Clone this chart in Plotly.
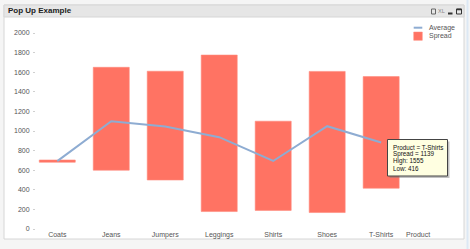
import plotly.graph_objects as go

products = ["Coats", "Jeans", "Jumpers", "Leggings", "Shirts", "Shoes", "T-Shirts"]
low = [681, 600, 500, 178, 190, 168, 416]
high = [704, 1650, 1610, 1775, 1100, 1608, 1555]
average = [693, 1100, 1045, 937, 694, 1049, 882]
y_ticks = [0, 200, 400, 600, 800, 1000, 1200, 1400, 1600, 1800, 2000]

spread = [h - l for h, l in zip(high, low)]

W, H = 470, 249
PL, PR, PT, PB = 36, 440, 33, 229  # plot area in pixels


def px(x):
    return (x - PL) / (PR - PL)


def py(y):
    return (PB - y) / (PB - PT)


FONT = "Liberation Sans, Arial, sans-serif"
GRAY = "#555555"
BAR = "#ff7363"
LINE = "#8eacd2"

fig = go.Figure()
fig.add_trace(go.Bar(
    x=products, y=spread, base=low, width=0.667,
    marker=dict(color=BAR, line=dict(color="#ff8a7c", width=0.6)),
    name="Spread", hoverinfo="skip"))
fig.add_trace(go.Scatter(
    x=products, y=average, mode="lines", name="Average",
    line=dict(color=LINE, width=2), hoverinfo="skip"))

shapes = []
annotations = []

# Panel background, border and caption bar
shapes.append(dict(type="rect", xref="paper", yref="paper", layer="below",
                   x0=px(4), x1=px(464), y0=py(239), y1=py(5),
                   fillcolor="white", line=dict(color="#d6d6d6", width=1)))
shapes.append(dict(type="rect", xref="paper", yref="paper", layer="below",
                   x0=px(4), x1=px(464), y0=py(17), y1=py(5),
                   fillcolor="#e6e6e6", line=dict(color="#d6d6d6", width=1)))
shapes.append(dict(type="line", xref="paper", yref="paper", layer="below",
                   x0=px(467.5), x1=px(467.5), y0=py(249), y1=py(0),
                   line=dict(color="#dce8f4", width=2)))
annotations.append(dict(x=px(6), y=py(11), xref="paper", yref="paper",
                        text="<b>Pop Up Example</b>", showarrow=False,
                        xanchor="left", yanchor="middle",
                        font=dict(family=FONT, size=8, color="#222222")))
# caption icons
shapes.append(dict(type="rect", xref="paper", yref="paper", layer="above",
                   x0=px(431.5), x1=px(435.5), y0=py(14), y1=py(9),
                   fillcolor="rgba(0,0,0,0)", line=dict(color="#666", width=1)))
annotations.append(dict(x=px(441), y=py(11), xref="paper", yref="paper",
                        text="XL", showarrow=False, xanchor="center", yanchor="middle",
                        font=dict(family=FONT, size=5.5, color="#888")))
shapes.append(dict(type="line", xref="paper", yref="paper", layer="above",
                   x0=px(448), x1=px(452.5), y0=py(13.5), y1=py(13.5),
                   line=dict(color="#333", width=2)))
shapes.append(dict(type="rect", xref="paper", yref="paper", layer="above",
                   x0=px(456.5), x1=px(461.5), y0=py(14), y1=py(9),
                   fillcolor="rgba(0,0,0,0)", line=dict(color="#333", width=1)))
shapes.append(dict(type="line", xref="paper", yref="paper", layer="above",
                   x0=px(456.5), x1=px(461.5), y0=py(9.5), y1=py(9.5),
                   line=dict(color="#333", width=1.5)))

# Legend
shapes.append(dict(type="line", xref="paper", yref="paper", layer="above",
                   x0=px(413.7), x1=px(422.3), y0=py(27.7), y1=py(27.7),
                   line=dict(color=LINE, width=2)))
shapes.append(dict(type="rect", xref="paper", yref="paper", layer="above",
                   x0=px(413.7), x1=px(422.3), y0=py(40.3), y1=py(32),
                   fillcolor=BAR, line=dict(color="#ff8a7c", width=0.5)))
annotations.append(dict(x=px(427), y=py(27.8), xref="paper", yref="paper",
                        text="Average", showarrow=False, xanchor="left", yanchor="middle",
                        font=dict(family=FONT, size=7, color=GRAY)))
annotations.append(dict(x=px(427), y=py(36.2), xref="paper", yref="paper",
                        text="Spread", showarrow=False, xanchor="left", yanchor="middle",
                        font=dict(family=FONT, size=7, color=GRAY)))

# Axis title at the end of the x axis
annotations.append(dict(x=px(418), y=py(234), xref="paper", yref="paper",
                        text="Product", showarrow=False, xanchor="center", yanchor="middle",
                        font=dict(family=FONT, size=7, color=GRAY)))

# Pop-up for T-Shirts
i = products.index("T-Shirts")
shapes.append(dict(type="rect", xref="paper", yref="paper", layer="above",
                   x0=px(389.5), x1=px(449.5), y0=py(178), y1=py(141.5),
                   fillcolor="rgba(120,120,120,0.45)", line=dict(width=0)))
shapes.append(dict(type="rect", xref="paper", yref="paper", layer="above",
                   x0=px(387.5), x1=px(447.5), y0=py(176), y1=py(139.5),
                   fillcolor="#ffffe1", line=dict(color="#444444", width=1)))
lines = [f"Product = {products[i]}", f"Spread = {spread[i]}",
         f"High: {high[i]}", f"Low: {low[i]}"]
for k, t in enumerate(lines):
    annotations.append(dict(x=px(390.5), y=py(147.3 + 7 * k), xref="paper", yref="paper",
                            text=t, showarrow=False, xanchor="left", yanchor="middle",
                            font=dict(family=FONT, size=6.3, color="#111111")))

fig.update_layout(
    template="none",
    width=W, height=H,
    margin=dict(l=PL, r=W - PR, t=PT, b=H - PB, pad=0),
    paper_bgcolor="#f5f5f5", plot_bgcolor="rgba(0,0,0,0)",
    showlegend=False, bargap=0.333,
    shapes=shapes, annotations=annotations,
    font=dict(family=FONT, size=7, color=GRAY),
    xaxis=dict(range=[-0.394, 7.09], showgrid=False, zeroline=False, showline=False,
               ticks="", tickfont=dict(family=FONT, size=7, color=GRAY),
               ticklabelstandoff=0),
    yaxis=dict(range=[0, 2000], tickvals=y_ticks, showgrid=False, zeroline=False,
               showline=False, ticks="outside", ticklen=2, tickcolor="#d0d0d0",
               tickfont=dict(family=FONT, size=7, color=GRAY), ticklabelstandoff=2),
)

fig.write_html("out.html")
